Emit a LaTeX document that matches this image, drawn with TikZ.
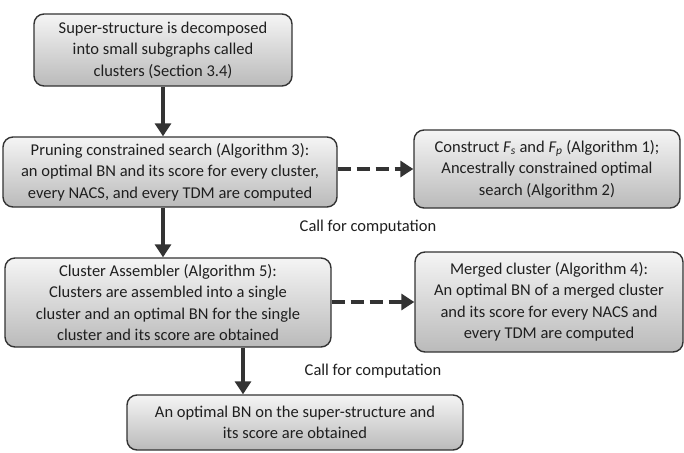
\documentclass[tikz,border=0pt]{standalone}
\usepackage{fontspec}
\setmainfont{Carlito}
\usetikzlibrary{arrows.meta,calc}
\begin{document}
\begin{tikzpicture}[x=1pt,y=-1pt,
  box/.style={draw=black!80, line width=1.4pt, rounded corners=10pt,
    top color=black!4, bottom color=black!27, align=center,
    inner sep=2pt, text=black!88,
    font=\fontsize{16.5}{21.5}\selectfont},
  flow/.style={draw=black!80, line width=4.5pt, -{Triangle[length=13pt,width=16pt]}},
  callarrow/.style={flow, dash pattern=on 13pt off 6pt},
  lbl/.style={text=black!88, font=\fontsize{16.5}{20}\selectfont}]
\useasboundingbox (0,0) rectangle (684,452);
\node[box, minimum width=258pt, minimum height=72pt] (b1) at (163,50)
  {Super-structure is decomposed\\into small subgraphs called\\clusters (Section 3.4)};
\node[box, minimum width=334pt, minimum height=70pt] (b2) at (170,172)
  {Pruning constrained search (Algorithm 3):\\an optimal BN and its score for every cluster,\\every NACS, and every TDM are computed};
\node[box, minimum width=266pt, minimum height=78pt] (b3) at (547,169)
  {Construct {\itshape F\textsubscript{s}} and {\itshape F\textsubscript{p}} (Algorithm 1);\\Ancestrally constrained optimal\\search (Algorithm 2)};
\node[box, minimum width=326pt, minimum height=89pt] (b4) at (168,302.5)
  {Cluster Assembler (Algorithm 5):\\Clusters are assembled into a single\\cluster and an optimal BN for the single\\cluster and its score are obtained};
\node[box, minimum width=268pt, minimum height=100pt] (b5) at (549,302)
  {Merged cluster (Algorithm 4):\\An optimal BN of a merged cluster\\and its score for every NACS and\\every TDM are computed};
\node[box, minimum width=336pt, minimum height=55pt] (b6) at (295,422.5)
  {An optimal BN on the super-structure and\\its score are obtained};
\node[lbl] (l1) at (368,227) {Call for computation};
\node[lbl] (l2) at (373,371) {Call for computation};
\draw[flow] (b1.south) -- (b1.south |- b2.north);
\draw[flow] (b1.south |- b2.south) -- (b1.south |- b4.north);
\draw[flow] ([xshift=75pt]b4.south) -- ([xshift=75pt]b4.south |- b6.north);
\draw[callarrow] (b3.west -| b2.east) -- (b3.west);
\draw[callarrow] (b5.west -| b4.east) -- (b5.west);
\end{tikzpicture}
\end{document}
